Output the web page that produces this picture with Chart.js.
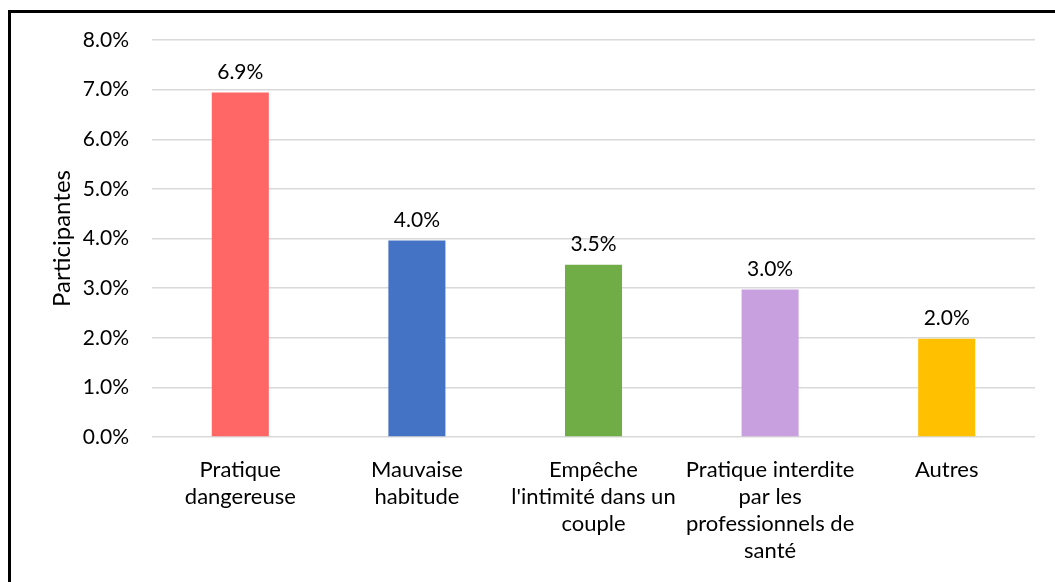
<!DOCTYPE html>
<html>
<head>
<meta charset="utf-8">
<script src="https://cdn.jsdelivr.net/npm/chart.js@4"></script>
<style>
  html, body { margin: 0; padding: 0; background: #fff; }
  #wrap { position: relative; width: 1055px; height: 582px; }
  #frame { position: absolute; left: 8px; top: 10px; width: 1100px; height: 600px;
           border-top: 3px solid #000; border-left: 3px solid #000; pointer-events: none; }
  canvas { position: absolute; left: 0; top: 0; }
</style>
</head>
<body>
<div id="wrap">
  <canvas id="c" width="1055" height="582"></canvas>
  <div id="frame"></div>
</div>
<script>
const categories = [
  ["Pratique", "dangereuse"],
  ["Mauvaise", "habitude"],
  ["Empêche", "l'intimité dans un", "couple"],
  ["Pratique interdite", "par les", "professionnels de", "santé"],
  ["Autres"]
];
const values = [6.94, 3.96, 3.47, 2.97, 1.98];
const barColors = ["#FF6666", "#4472C4", "#70AD47", "#C8A0E0", "#FFC000"];
const yTicks = [0, 1, 2, 3, 4, 5, 6, 7, 8];
const yTitle = "Participantes";

const FONT = "Lato, 'Open Sans', sans-serif";

const dataLabels = {
  id: 'dataLabels',
  afterDatasetsDraw(chart) {
    const ctx = chart.ctx;
    const meta = chart.getDatasetMeta(0);
    ctx.save();
    ctx.font = "21px " + FONT;
    ctx.fillStyle = "#000";
    ctx.textAlign = "center";
    ctx.textBaseline = "bottom";
    meta.data.forEach((bar, i) => {
      ctx.fillText(values[i].toFixed(1) + "%", bar.x, bar.y - 10);
    });
    ctx.restore();
  }
};

new Chart(document.getElementById('c'), {
  type: 'bar',
  data: {
    labels: categories,
    datasets: [{
      data: values,
      backgroundColor: barColors,
      borderWidth: 0,
      categoryPercentage: 1,
      barPercentage: 0.323
    }]
  },
  options: {
    responsive: false,
    animation: false,
    devicePixelRatio: 1,
    layout: { padding: { left: 0, right: 20, top: 40, bottom: 0 } },
    plugins: { legend: { display: false }, tooltip: { enabled: false } },
    scales: {
      x: {
        grid: { display: false, drawTicks: false },
        border: { display: false },
        ticks: {
          color: "#000",
          font: { family: FONT, size: 22, lineHeight: 1.227 },
          padding: 19,
          maxRotation: 0,
          autoSkip: false
        },
        afterFit(scale) { scale.height = 145; }
      },
      y: {
        min: 0, max: 8,
        afterBuildTicks(scale) { scale.ticks = yTicks.map(v => ({ value: v })); },
        grid: { color: "#D9D9D9", lineWidth: 1.5, drawTicks: false },
        border: { display: false },
        ticks: {
          color: "#000",
          font: { family: FONT, size: 21 },
          padding: 23,
          callback: v => v.toFixed(1) + "%"
        },
        title: {
          display: true,
          text: yTitle,
          color: "#000",
          font: { family: FONT, size: 24 },
          padding: { top: 48, bottom: 0 }
        },
        afterFit(scale) { scale.width = 152; }
      }
    }
  },
  plugins: [dataLabels]
});
</script>
</body>
</html>
